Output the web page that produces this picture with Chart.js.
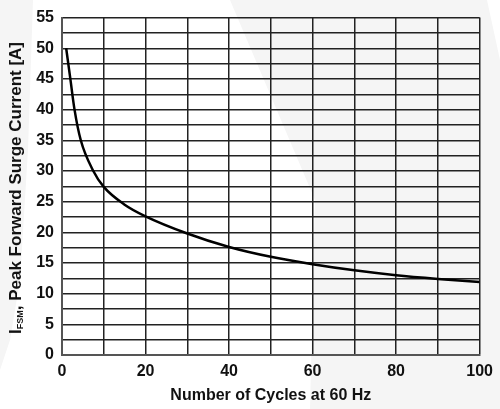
<!DOCTYPE html>
<html>
<head>
<meta charset="utf-8">
<script src="https://cdn.jsdelivr.net/npm/chart.js@4"></script>
<style>
  html, body { margin: 0; padding: 0; background: #fff; }
  #wrap { position: relative; width: 500px; height: 409px; overflow: hidden; }
  .mark { position: absolute; left: 0; top: 0; width: 500px; height: 409px; background: #f5f5f5; }
  #markR { clip-path: polygon(230px 0, 487px 0, 500px 60px, 500px 409px, 310px 409px, 315px 200px); }
  #markL { clip-path: polygon(0 0, 33px 0, 28px 150px, 20px 280px, 10px 340px, 0 370px); }
  canvas { position: relative; }
  #ytitle {
    position: absolute;
    left: 16px; top: 188px;
    transform: translate(-50%, -50%) rotate(-90deg);
    white-space: nowrap;
    font: bold 17px "Liberation Sans", Arial, sans-serif;
    color: #111;
  }
  #ytitle sub { font-size: 9px; vertical-align: -2px; }
</style>
</head>
<body>
<div id="wrap">
  <div class="mark" id="markR"></div>
  <div class="mark" id="markL"></div>
  <canvas id="surge" width="500" height="409"></canvas>
  <div id="ytitle">I<sub>FSM</sub>, Peak Forward Surge Current [A]</div>
</div>
<script>
// values
const cycles = [1, 2, 3, 4.5, 7.5, 10, 15, 20, 30, 40, 50, 60, 70, 80, 90, 100];
const current = [50, 45, 40, 35, 30, 27.4, 24.5, 22.6, 19.8, 17.6, 16, 14.8, 13.8, 13, 12.4, 11.9];
const xTickLabels = [0, 20, 40, 60, 80, 100];
const yTickLabels = [0, 5, 10, 15, 20, 25, 30, 35, 40, 45, 50, 55];

const font = { family: "'Liberation Sans', Arial, sans-serif", size: 16, weight: "bold" };
const grid = { color: "#222", lineWidth: 1.5, drawTicks: false };

new Chart(document.getElementById("surge"), {
  type: "line",
  data: {
    datasets: [{
      data: cycles.map((c, i) => ({ x: c, y: current[i] })),
      borderColor: "#000",
      borderWidth: 2.5,
      pointRadius: 0,
      cubicInterpolationMode: "monotone",
      fill: false,
    }],
  },
  options: {
    responsive: false,
    animation: false,
    layout: { padding: { top: 17, right: 17, left: 0, bottom: 0 } },
    plugins: { legend: { display: false }, tooltip: { enabled: false } },
    scales: {
      x: {
        type: "linear", min: 0, max: 100,
        grid: grid,
        border: { color: "#555", width: 2 },
        afterFit: (s) => { s.height = 54; },
        ticks: {
          stepSize: 10, padding: 7, color: "#111", font: font, maxRotation: 0,
          autoSkip: false,
          callback: (v) => (xTickLabels.includes(v) ? String(v) : ""),
        },
        title: {
          display: true, text: "Number of Cycles at 60 Hz", color: "#111",
          font: { family: font.family, size: 16, weight: "bold" },
          padding: { top: 4, bottom: 4 },
        },
      },
      y: {
        min: 0, max: 55,
        grid: grid,
        border: { color: "#555", width: 2 },
        afterFit: (s) => { s.width = 62; },
        ticks: {
          stepSize: 2.5, padding: 8, color: "#111", font: font,
          autoSkip: false,
          callback: (v) => (yTickLabels.includes(v) ? String(v) : ""),
        },
      },
    },
  },
});
</script>
</body>
</html>
